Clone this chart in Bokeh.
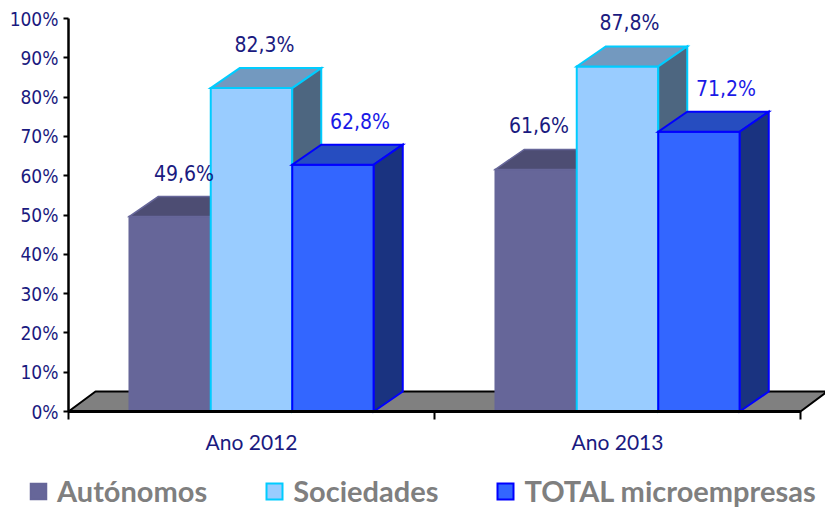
from bokeh.plotting import figure
from bokeh.models import (Range1d, LinearAxis, FixedTicker, Legend, LegendItem,
                          ColumnDataSource)
from bokeh.core.properties import value
from bokeh.embed import file_html
from bokeh.resources import INLINE

# ---------------- data ----------------
categories = ["Ano 2012", "Ano 2013"]
series_names = ["Autónomos", "Sociedades", "TOTAL microempresas"]
autonomos = [49.6, 61.6]
sociedades = [82.3, 87.8]
total_micro = [62.8, 71.2]
y_ticks = [0, 10, 20, 30, 40, 50, 60, 70, 80, 90, 100]
y_tick_labels = ["0%", "10%", "20%", "30%", "40%", "50%", "60%", "70%", "80%", "90%", "100%"]

series_values = [autonomos, sociedades, total_micro]

# ---------------- styles ----------------
front_colors = ["#666699", "#99CCFF", "#3366FF"]
top_colors = ["#4D4D73", "#7399BF", "#264DC0"]
side_colors = ["#3D3D5C", "#4D6680", "#1A3380"]
line_colors = ["#666699", "#00CCFF", "#0000FF"]
line_widths = [1.5, 2.0, 2.0]
label_colors = ["#1A1A80", "#1A1A80", "#1A1AE6"]
# horizontal pixel shift of each value label (per category, per series)
label_dx_px = [[14, 13, 27], [3, 12, 27]]
NAVY = "#1A1A80"

W, H = 825, 510
AXIS_X = 68.0          # pixel column of the value axis
PX_PER_CAT = 366.0
PX_PER_PCT = 3.93
Y0_PX = 411.0          # pixel row of 0 %
x_start = -AXIS_X / PX_PER_CAT
x_end = (W - AXIS_X) / PX_PER_CAT
y_start = -(H - Y0_PX) / PX_PER_PCT
y_end = Y0_PX / PX_PER_PCT

bar_dx = 29 / PX_PER_CAT
floor_dx = 27 / PX_PER_CAT
depth_dy = 20 / PX_PER_PCT
bar_w = 0.2227

p = figure(width=W, height=H, output_backend="svg", toolbar_location=None,
           x_range=Range1d(x_start, x_end), y_range=Range1d(y_start, y_end),
           x_axis_type=None, y_axis_type=None,
           min_border_left=0, min_border_right=0, min_border_top=0, min_border_bottom=0)
p.xgrid.visible = False
p.ygrid.visible = False
p.outline_line_color = None
p.background_fill_color = "white"
p.border_fill_color = "white"

# floor
n_cat = len(categories)
p.patch([0, n_cat, n_cat + floor_dx, floor_dx], [0, 0, depth_dy, depth_dy],
        fill_color="#808080", line_color="black", line_width=2)

# bars (ordered so that nearer faces overdraw)
xs, ys, fills, lcols, lws = [], [], [], [], []
lx, ly, ltxt, lcol = [], [], [], []
legend_index = {}
for ci in range(n_cat):
    for si, vals in enumerate(series_values):
        v = vals[ci]
        x0 = ci + 0.5 + (si - 1.5) * bar_w
        x1 = x0 + bar_w
        if ci == 0:
            legend_index[si] = len(xs)
        # front
        xs.append([x0, x1, x1, x0]); ys.append([0, 0, v, v])
        fills.append(front_colors[si]); lcols.append(line_colors[si]); lws.append(line_widths[si])
        # top
        xs.append([x0, x1, x1 + bar_dx, x0 + bar_dx]); ys.append([v, v, v + depth_dy, v + depth_dy])
        fills.append(top_colors[si]); lcols.append(line_colors[si]); lws.append(line_widths[si])
        # side
        xs.append([x1, x1 + bar_dx, x1 + bar_dx, x1]); ys.append([0, depth_dy, v + depth_dy, v])
        fills.append(side_colors[si]); lcols.append(line_colors[si]); lws.append(line_widths[si])
        lx.append((x0 + x1) / 2 + label_dx_px[ci][si] / PX_PER_CAT)
        ly.append(v + depth_dy)
        ltxt.append(f"{v:.1f}%".replace(".", ","))
        lcol.append(label_colors[si])

src = ColumnDataSource(dict(xs=xs, ys=ys, fill=fills, lc=lcols, lw=lws))
bars = p.patches("xs", "ys", source=src, fill_color="fill", line_color="lc",
                 line_width="lw", line_join="miter")

lsrc = ColumnDataSource(dict(x=lx, y=ly, t=ltxt, c=lcol))
p.text("x", "y", text="t", source=lsrc, text_color="c",
       text_font=value("DejaVu Sans Condensed"), text_font_size="21px",
       text_align="center", text_baseline="middle", y_offset=-23)

# y axis
yaxis = LinearAxis(fixed_location=0, bounds=(0, 100),
                   ticker=FixedTicker(ticks=y_ticks, minor_ticks=[]),
                   major_label_overrides=dict(zip(y_ticks, y_tick_labels)))
yaxis.axis_line_width = 2.5
yaxis.axis_line_color = "black"
yaxis.major_tick_line_width = 2
yaxis.major_tick_out = 5
yaxis.major_tick_in = 0
yaxis.minor_tick_line_color = None
yaxis.major_label_standoff = 5
yaxis.major_label_text_font = "DejaVu Sans Condensed"
yaxis.major_label_text_font_size = "19px"
yaxis.major_label_text_color = NAVY
p.add_layout(yaxis, "left")

# x axis (category labels centred, ticks at category boundaries)
cat_centers = [i + 0.5 for i in range(n_cat)]
cat_bounds = [float(i) for i in range(n_cat + 1)]
xaxis = LinearAxis(fixed_location=0, bounds=(0, n_cat),
                   ticker=FixedTicker(ticks=cat_centers, minor_ticks=cat_bounds),
                   major_label_overrides=dict(zip(cat_centers, categories)))
xaxis.axis_line_width = 3
xaxis.axis_line_color = "black"
xaxis.major_tick_line_color = None
xaxis.major_tick_out = 8
xaxis.major_tick_in = 0
xaxis.minor_tick_line_color = "black"
xaxis.minor_tick_line_width = 2
xaxis.minor_tick_out = 8
xaxis.minor_tick_in = 0
xaxis.major_label_standoff = 9
xaxis.major_label_text_font = "Lato"
xaxis.major_label_text_font_size = "21px"
xaxis.major_label_text_color = NAVY
p.add_layout(xaxis, "below")

legend = Legend(items=[LegendItem(label=series_names[i], renderers=[bars], index=legend_index[i])
                       for i in range(3)],
                location=(28, 2), orientation="horizontal",
                glyph_width=20, glyph_height=20, label_standoff=9, spacing=57,
                padding=0, margin=0, border_line_color=None, background_fill_alpha=0,
                label_text_font="Lato", label_text_font_size="29px",
                label_text_font_style="bold", label_text_color="#7F7F7F")
p.add_layout(legend)

open("out.html", "w").write(file_html(p, INLINE))
